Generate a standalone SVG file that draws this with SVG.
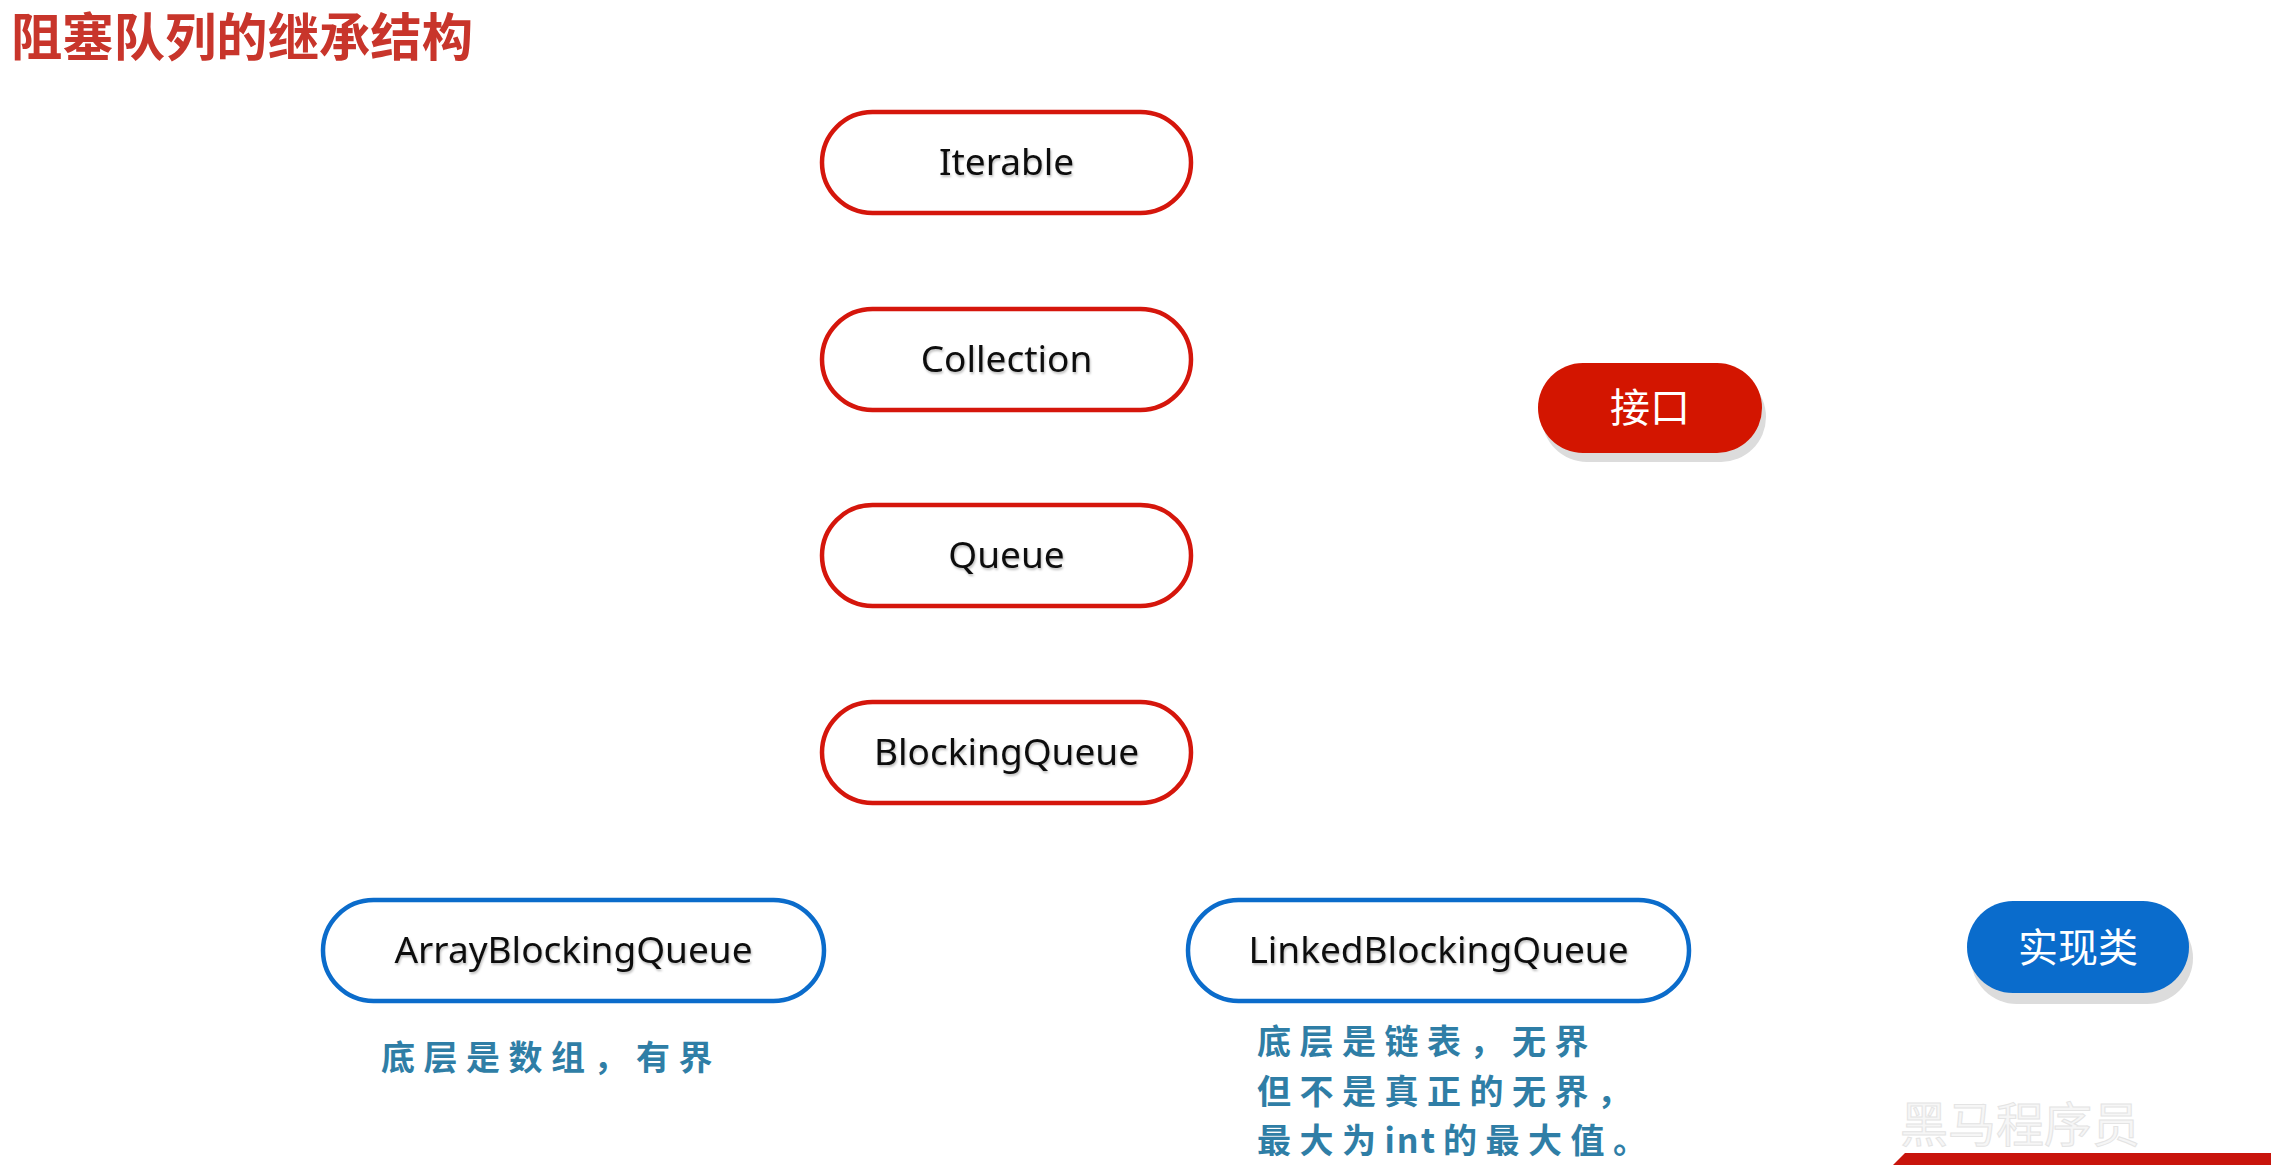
<svg xmlns="http://www.w3.org/2000/svg" width="2271" height="1165" viewBox="0 0 2271 1165">
  <defs>
    <filter id="tshadow" x="-10%" y="-30%" width="120%" height="160%">
      <feDropShadow dx="1" dy="2" stdDeviation="1.2" flood-color="#000" flood-opacity="0.25"/>
    </filter>
  </defs>
  <style>
    .pill-red { fill: #ffffff; stroke: #d5160c; stroke-width: 4.5; }
    .pill-blue { fill: #ffffff; stroke: #0b6ccb; stroke-width: 4.5; }
    .label { font-family: "Noto Sans", "Open Sans", sans-serif; font-size: 37px; fill: #111; text-anchor: middle; filter: url(#tshadow); }
    .note { font-family: "Noto Sans CJK SC", sans-serif; font-weight: bold; font-size: 34px; letter-spacing: 8.5px; fill: #2f7ea6; }
    .tight { letter-spacing: 2px; }
    .legend-text { font-family: "Noto Sans CJK SC", sans-serif; font-size: 40px; fill: #ffffff; text-anchor: middle; }
    .title { font-family: "Noto Sans CJK SC", sans-serif; font-weight: bold; font-size: 51px; fill: #c8352b; }
  </style>
  <rect x="0" y="0" width="2271" height="1165" fill="#ffffff"/>

  <text class="title" x="11" y="56" textLength="462" lengthAdjust="spacingAndGlyphs">阻塞队列的继承结构</text>

  <g id="connectors"></g>

  <g id="node-iterable">
    <rect class="pill-red" x="822" y="112" width="369" height="101" rx="50.5"/>
    <text class="label" x="1006.5" y="175">Iterable</text>
  </g>
  <g id="node-collection">
    <rect class="pill-red" x="822" y="309" width="369" height="101" rx="50.5"/>
    <text class="label" x="1006.5" y="372">Collection</text>
  </g>
  <g id="node-queue">
    <rect class="pill-red" x="822" y="505" width="369" height="101" rx="50.5"/>
    <text class="label" x="1006.5" y="568">Queue</text>
  </g>
  <g id="node-blockingqueue">
    <rect class="pill-red" x="822" y="702" width="369" height="101" rx="50.5"/>
    <text class="label" x="1006.5" y="765">BlockingQueue</text>
  </g>

  <g id="node-arrayblockingqueue">
    <rect class="pill-blue" x="323" y="900" width="501" height="101" rx="50.5"/>
    <text class="label" x="573.5" y="963">ArrayBlockingQueue</text>
  </g>
  <g id="note-array">
    <text class="note" x="381" y="1070">底层是数组，有界</text>
  </g>

  <g id="node-linkedblockingqueue">
    <rect class="pill-blue" x="1188" y="900" width="501" height="101" rx="50.5"/>
    <text class="label" x="1438.5" y="963">LinkedBlockingQueue</text>
  </g>
  <g id="note-linked">
    <text class="note" x="1257" y="1054">底层是链表，无界</text>
    <text class="note" x="1257" y="1104">但不是真正的无界，</text>
    <text class="note" x="1257" y="1153">最大为<tspan class="tight">int</tspan><tspan dx="6">的最大值。</tspan></text>
  </g>

  <g id="legend-interface">
    <rect x="1542" y="372" width="224" height="90" rx="45" fill="#dcdcdc"/>
    <rect x="1538" y="363" width="224" height="90" rx="45" fill="#d31500"/>
    <text class="legend-text" x="1650" y="422">接口</text>
  </g>
  <g id="legend-impl">
    <rect x="1971" y="912" width="222" height="92" rx="46" fill="#dcdcdc"/>
    <rect x="1967" y="901" width="222" height="92" rx="46" fill="#0a6ccc"/>
    <text class="legend-text" x="2078" y="962">实现类</text>
  </g>

  <g id="watermark">
    <text x="1900" y="1142" font-family="Noto Sans CJK SC, sans-serif" font-size="48" fill="#f6f6f6" stroke="#e4e4e4" stroke-width="1">黑马程序员</text>
    <polygon points="1905,1153 2271,1153 2271,1165 1893,1165" fill="#c8140c"/>
  </g>
</svg>
